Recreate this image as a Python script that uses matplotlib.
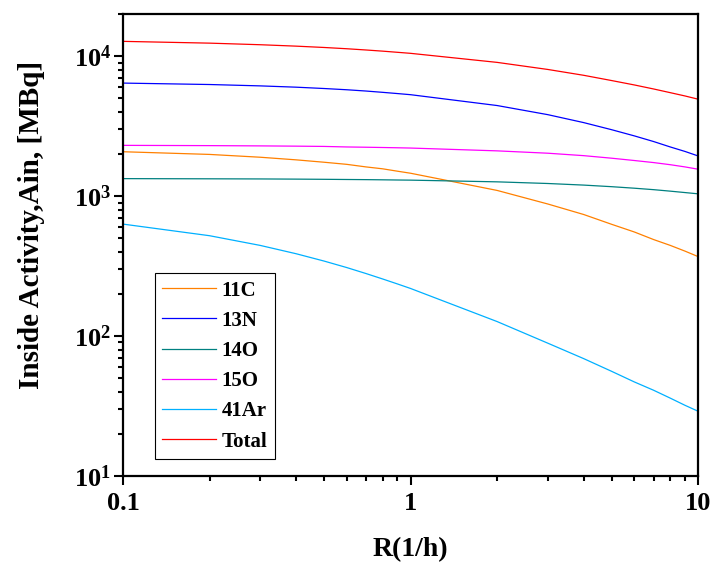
import matplotlib
matplotlib.use("Agg")
import matplotlib.pyplot as plt
from matplotlib.ticker import LogLocator, NullFormatter, FixedLocator, FixedFormatter

plt.rcParams["font.family"] = ["Liberation Serif", "DejaVu Serif"]
plt.rcParams["font.weight"] = "bold"
plt.rcParams["mathtext.fontset"] = "custom"
plt.rcParams["mathtext.rm"] = "Liberation Serif:bold"
plt.rcParams["mathtext.bf"] = "Liberation Serif:bold"

# ventilation rate R (1/h)
R = [0.1, 0.2, 0.3, 0.4, 0.5, 0.6, 0.7, 0.8, 0.9, 1,
     2, 3, 4, 5, 6, 7, 8, 9, 10]

# inside activity (MBq)
c11 = [2080, 1990, 1900, 1820, 1750, 1690, 1620, 1570, 1510, 1460,
       1100, 880, 740, 630, 555, 490, 445, 405, 370]
n13 = [6440, 6290, 6150, 6020, 5890, 5770, 5650, 5530, 5420, 5320,
       4450, 3830, 3360, 2990, 2700, 2460, 2250, 2090, 1940]
o14 = [1336, 1332, 1329, 1325, 1321, 1317, 1314, 1310, 1306, 1303,
       1267, 1233, 1201, 1170, 1141, 1114, 1087, 1062, 1040]
o15 = [2310, 2300, 2290, 2280, 2270, 2250, 2240, 2230, 2220, 2210,
       2110, 2030, 1950, 1870, 1800, 1740, 1680, 1620, 1560]
ar41 = [632, 522, 445, 388, 344, 309, 280, 256, 236, 219,
        127, 89, 69, 56, 47, 41, 36, 32, 29]
total = [12800, 12430, 12110, 11830, 11575, 11335, 11105, 10895, 10690, 10510,
         9055, 8060, 7320, 6715, 6245, 5845, 5500, 5210, 4940]

series = [
    ("11C", c11, "#FF8000"),
    ("13N", n13, "#0000FF"),
    ("14O", o14, "#008080"),
    ("15O", o15, "#FF00FF"),
    ("41Ar", ar41, "#00B0FF"),
    ("Total", total, "#FF0000"),
]

fig = plt.figure(figsize=(7.19, 5.70), dpi=100)
ax = fig.add_axes([0.171, 0.165, 0.800, 0.810])

for name, vals, col in series:
    ax.plot(R, vals, color=col, lw=0.9, label=name)

ax.set_xscale("log")
ax.set_yscale("log")
ax.set_xlim(0.1, 10)
ax.set_ylim(10, 2e4)

ax.xaxis.set_major_locator(FixedLocator([0.1, 1, 10]))
ax.xaxis.set_major_formatter(FixedFormatter(["0.1", "1", "10"]))
ax.xaxis.set_minor_locator(LogLocator(base=10, subs=range(2, 10)))
ax.xaxis.set_minor_formatter(NullFormatter())
ax.yaxis.set_major_locator(LogLocator(base=10, numticks=10))
ax.yaxis.set_minor_locator(LogLocator(base=10, subs=range(2, 10), numticks=10))
ax.yaxis.set_minor_formatter(NullFormatter())

ax.tick_params(which="both", direction="out", top=False, right=False, width=1.5)
ax.tick_params(which="major", length=6.5, labelsize=19)
ax.tick_params(axis="x", which="major", pad=5)
ax.tick_params(axis="y", which="major", pad=2)
ax.tick_params(which="minor", length=3.5)
for sp in ax.spines.values():
    sp.set_linewidth(1.6)

ax.set_xlabel("R(1/h)", fontsize=20, fontweight="bold")
ax.set_ylabel("Inside Activity,Ain, [MBq]", fontsize=21, fontweight="bold")
ax.xaxis.set_label_coords(0.5, -0.132)
ax.yaxis.set_label_coords(-0.136, 0.543)

leg = ax.legend(loc="lower left", bbox_to_anchor=(0.056, 0.037), borderaxespad=0,
                fontsize=15, handlelength=2.55, handletextpad=0.3, labelspacing=0.49,
                borderpad=0.35, fancybox=False, framealpha=1)
leg.get_frame().set_edgecolor("black")
leg.get_frame().set_linewidth(0.8)
for t in leg.get_texts():
    t.set_fontweight("bold")

fig.savefig("out.png", dpi=100)
